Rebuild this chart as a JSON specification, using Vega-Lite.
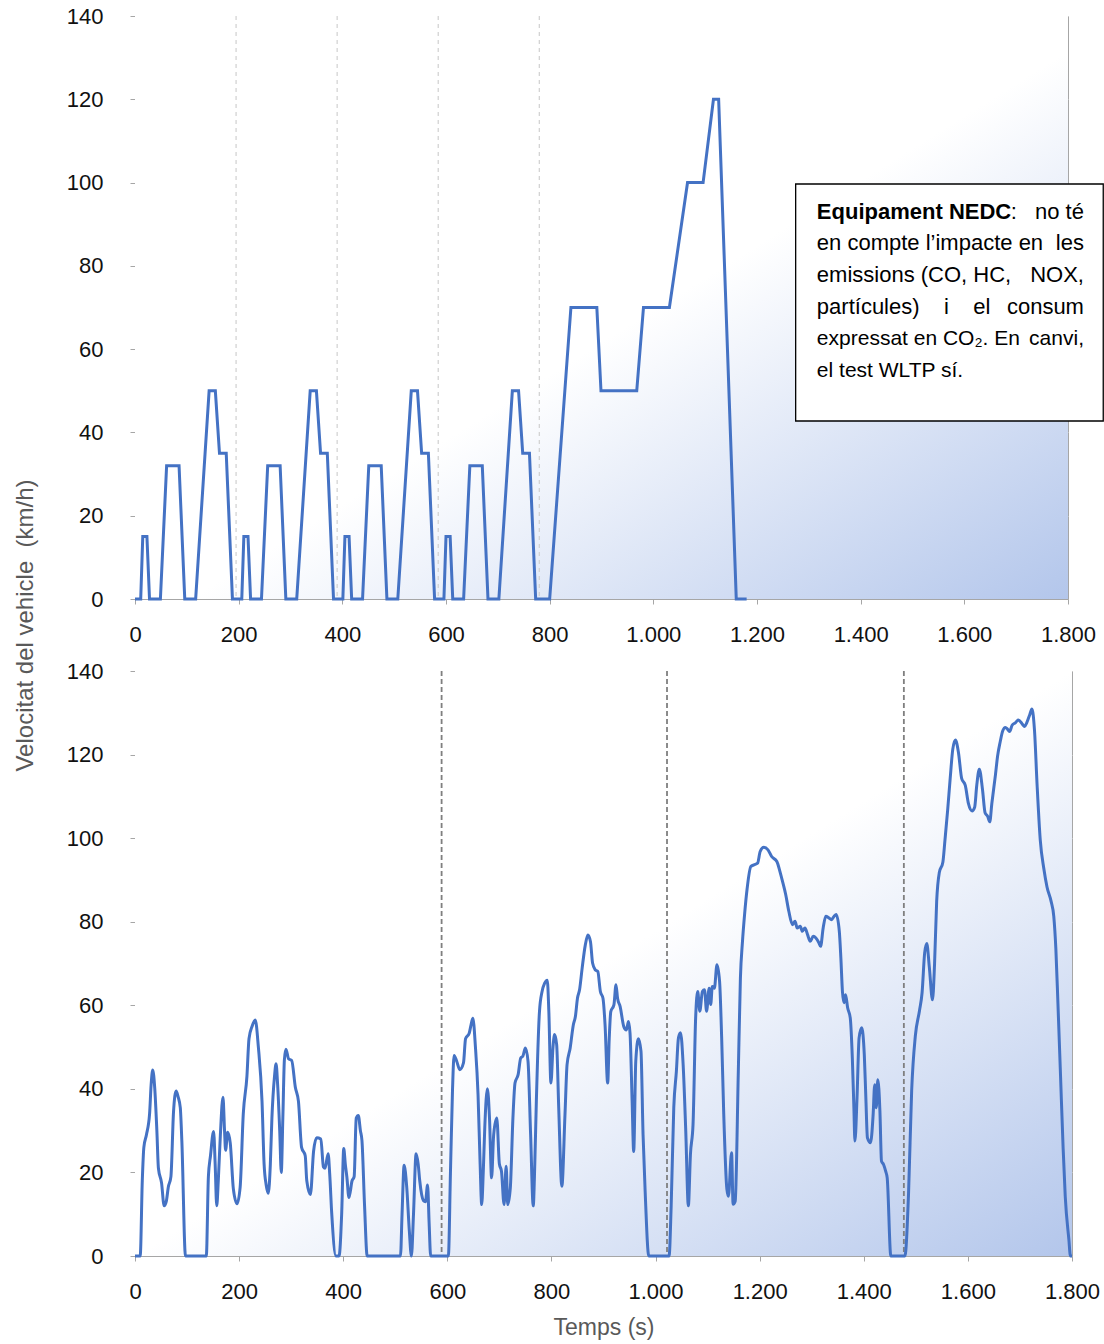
{
  "$schema": "https://vega.github.io/schema/vega-lite/v6.json",
  "background": "white",
  "padding": {"left": 12, "top": 4, "right": 5, "bottom": 5},
  "bounds": "flush",
  "spacing": 72,
  "config": {
    "font": "Liberation Sans",
    "view": {"stroke": "#a6a6a6", "strokeWidth": 1},
    "axis": {
      "labelFont": "Liberation Sans",
      "labelFontSize": 22,
      "labelColor": "#111111",
      "domainColor": "#a6a6a6",
      "tickColor": "#a6a6a6",
      "tickSize": 5,
      "gridColor": "#d4d4d4",
      "gridDash": [3, 3],
      "titleFont": "Liberation Sans",
      "titleFontSize": 23,
      "titleColor": "#595959",
      "titleFontWeight": "normal"
    }
  },
  "datasets": {
    "nedc": [
      {"t": 0, "v": 0}, {"t": 11, "v": 0}, {"t": 15, "v": 15}, {"t": 23, "v": 15}, {"t": 28, "v": 0}, {"t": 49, "v": 0}, {"t": 61, "v": 32}, {"t": 85, "v": 32}, {"t": 96, "v": 0}, {"t": 117, "v": 0}, {"t": 143, "v": 50}, {"t": 155, "v": 50}, {"t": 163, "v": 35}, {"t": 176, "v": 35}, {"t": 188, "v": 0}, {"t": 195, "v": 0},
      {"t": 206, "v": 0}, {"t": 210, "v": 15}, {"t": 218, "v": 15}, {"t": 223, "v": 0}, {"t": 244, "v": 0}, {"t": 256, "v": 32}, {"t": 280, "v": 32}, {"t": 291, "v": 0}, {"t": 312, "v": 0}, {"t": 338, "v": 50}, {"t": 350, "v": 50}, {"t": 358, "v": 35}, {"t": 371, "v": 35}, {"t": 383, "v": 0}, {"t": 390, "v": 0},
      {"t": 401, "v": 0}, {"t": 405, "v": 15}, {"t": 413, "v": 15}, {"t": 418, "v": 0}, {"t": 439, "v": 0}, {"t": 451, "v": 32}, {"t": 475, "v": 32}, {"t": 486, "v": 0}, {"t": 507, "v": 0}, {"t": 533, "v": 50}, {"t": 545, "v": 50}, {"t": 553, "v": 35}, {"t": 566, "v": 35}, {"t": 578, "v": 0}, {"t": 585, "v": 0},
      {"t": 596, "v": 0}, {"t": 600, "v": 15}, {"t": 608, "v": 15}, {"t": 613, "v": 0}, {"t": 634, "v": 0}, {"t": 646, "v": 32}, {"t": 670, "v": 32}, {"t": 681, "v": 0}, {"t": 702, "v": 0}, {"t": 728, "v": 50}, {"t": 740, "v": 50}, {"t": 748, "v": 35}, {"t": 761, "v": 35}, {"t": 773, "v": 0}, {"t": 780, "v": 0},
      {"t": 800, "v": 0}, {"t": 841, "v": 70}, {"t": 891, "v": 70}, {"t": 899, "v": 50}, {"t": 968, "v": 50}, {"t": 981, "v": 70}, {"t": 1031, "v": 70}, {"t": 1066, "v": 100}, {"t": 1096, "v": 100}, {"t": 1116, "v": 120}, {"t": 1126, "v": 120}, {"t": 1160, "v": 0}, {"t": 1180, "v": 0}
    ],
    "wltp": [
      {"t": 0, "v": 0}, {"t": 10, "v": 0}, {"t": 14, "v": 18}, {"t": 17, "v": 26}, {"t": 22, "v": 29}, {"t": 28, "v": 34}, {"t": 31, "v": 41}, {"t": 34, "v": 44.5}, {"t": 38, "v": 40}, {"t": 42, "v": 30}, {"t": 45, "v": 21}, {"t": 51, "v": 17.5}, {"t": 56, "v": 12}, {"t": 60, "v": 13}, {"t": 64, "v": 16.5}, {"t": 69, "v": 19}, {"t": 74, "v": 34.5}, {"t": 79, "v": 39.5}, {"t": 83, "v": 38}, {"t": 87, "v": 35.5}, {"t": 90, "v": 27.5}, {"t": 97, "v": 0},
      {"t": 137, "v": 0}, {"t": 141, "v": 19}, {"t": 145, "v": 24}, {"t": 151, "v": 29.8}, {"t": 154, "v": 22}, {"t": 157, "v": 12}, {"t": 160, "v": 18}, {"t": 164, "v": 29}, {"t": 169, "v": 38}, {"t": 172, "v": 30}, {"t": 174, "v": 25.3}, {"t": 178, "v": 29.6}, {"t": 183, "v": 27}, {"t": 189, "v": 16}, {"t": 196, "v": 12.5}, {"t": 202, "v": 16.5}, {"t": 208, "v": 34}, {"t": 215, "v": 43}, {"t": 219, "v": 52}, {"t": 225, "v": 55}, {"t": 231, "v": 56.5}, {"t": 237, "v": 50}, {"t": 244, "v": 37}, {"t": 248, "v": 22}, {"t": 252, "v": 17}, {"t": 256, "v": 15}, {"t": 260, "v": 22}, {"t": 263, "v": 33}, {"t": 268, "v": 43}, {"t": 271, "v": 46}, {"t": 274, "v": 41}, {"t": 278, "v": 30}, {"t": 281, "v": 20}, {"t": 284, "v": 33}, {"t": 287, "v": 47}, {"t": 290, "v": 49.5}, {"t": 295, "v": 47.2}, {"t": 301, "v": 46.8}, {"t": 308, "v": 40.4}, {"t": 314, "v": 37}, {"t": 320, "v": 26}, {"t": 327, "v": 24}, {"t": 330, "v": 18}, {"t": 337, "v": 14.7}, {"t": 343, "v": 25}, {"t": 349, "v": 28.3}, {"t": 357, "v": 28}, {"t": 362, "v": 21.3}, {"t": 365, "v": 21}, {"t": 371, "v": 24.5}, {"t": 374, "v": 19.7}, {"t": 378, "v": 10}, {"t": 386, "v": 0}, {"t": 392, "v": 0},
      {"t": 397, "v": 10}, {"t": 401, "v": 25.7}, {"t": 404, "v": 22}, {"t": 407, "v": 18.9}, {"t": 411, "v": 14}, {"t": 417, "v": 18}, {"t": 421, "v": 19}, {"t": 425, "v": 33}, {"t": 429, "v": 33.6}, {"t": 433, "v": 30}, {"t": 436, "v": 27.6}, {"t": 441, "v": 12}, {"t": 446, "v": 0}, {"t": 510, "v": 0}, {"t": 513, "v": 10}, {"t": 517, "v": 21.7}, {"t": 522, "v": 16.5}, {"t": 527, "v": 6}, {"t": 531, "v": 0}, {"t": 535, "v": 10}, {"t": 540, "v": 24.5}, {"t": 544, "v": 22}, {"t": 547, "v": 18}, {"t": 554, "v": 13.3}, {"t": 558, "v": 13}, {"t": 562, "v": 17}, {"t": 565, "v": 8}, {"t": 568, "v": 0}, {"t": 602, "v": 0},
      {"t": 606, "v": 20}, {"t": 610, "v": 40}, {"t": 613, "v": 48}, {"t": 618, "v": 46.6}, {"t": 624, "v": 44.6}, {"t": 631, "v": 46.2}, {"t": 635, "v": 52}, {"t": 642, "v": 53.3}, {"t": 645, "v": 55}, {"t": 649, "v": 56.9}, {"t": 654, "v": 50}, {"t": 659, "v": 38.6}, {"t": 663, "v": 22}, {"t": 666, "v": 12.3}, {"t": 669, "v": 20}, {"t": 672, "v": 31}, {"t": 677, "v": 40}, {"t": 681, "v": 33}, {"t": 685, "v": 18.7}, {"t": 689, "v": 29}, {"t": 695, "v": 33}, {"t": 700, "v": 22}, {"t": 704, "v": 20.3}, {"t": 709, "v": 12.3}, {"t": 713, "v": 21.5}, {"t": 716, "v": 12.3}, {"t": 721, "v": 16.3}, {"t": 726, "v": 33}, {"t": 730, "v": 41.4}, {"t": 736, "v": 43.4}, {"t": 741, "v": 47.4}, {"t": 745, "v": 47.8}, {"t": 750, "v": 49.8}, {"t": 755, "v": 46.6}, {"t": 760, "v": 29}, {"t": 765, "v": 12}, {"t": 768, "v": 22}, {"t": 771, "v": 37}, {"t": 777, "v": 58.5}, {"t": 782, "v": 63.3}, {"t": 787, "v": 65.3}, {"t": 792, "v": 66}, {"t": 795, "v": 58.5}, {"t": 799, "v": 41.4}, {"t": 803, "v": 50}, {"t": 806, "v": 53}, {"t": 810, "v": 50.6}, {"t": 814, "v": 35.4}, {"t": 820, "v": 16.7}, {"t": 826, "v": 33.8}, {"t": 830, "v": 45.8}, {"t": 836, "v": 49.8}, {"t": 842, "v": 55.3}, {"t": 846, "v": 57.3}, {"t": 850, "v": 61.7}, {"t": 854, "v": 63.7}, {"t": 859, "v": 68.9}, {"t": 865, "v": 74.4}, {"t": 870, "v": 76.8}, {"t": 875, "v": 75.2}, {"t": 879, "v": 70.1}, {"t": 884, "v": 68.5}, {"t": 889, "v": 68.1}, {"t": 894, "v": 63.3}, {"t": 899, "v": 61.7}, {"t": 903, "v": 55.3}, {"t": 908, "v": 41.4}, {"t": 911, "v": 52}, {"t": 914, "v": 58.5}, {"t": 920, "v": 60.1}, {"t": 924, "v": 64.9}, {"t": 927, "v": 61.7}, {"t": 932, "v": 59.7}, {"t": 939, "v": 54.9}, {"t": 944, "v": 54.1}, {"t": 948, "v": 56.1}, {"t": 951, "v": 53.3}, {"t": 955, "v": 37}, {"t": 958, "v": 25}, {"t": 962, "v": 46.6}, {"t": 967, "v": 52}, {"t": 972, "v": 49}, {"t": 976, "v": 29}, {"t": 980, "v": 15.5}, {"t": 987, "v": 0}, {"t": 1026, "v": 0},
      {"t": 1030, "v": 12}, {"t": 1035, "v": 35.5}, {"t": 1040, "v": 44.2}, {"t": 1044, "v": 52.2}, {"t": 1048, "v": 53.4}, {"t": 1053, "v": 45.8}, {"t": 1058, "v": 30}, {"t": 1063, "v": 12}, {"t": 1067, "v": 24.3}, {"t": 1072, "v": 31.5}, {"t": 1077, "v": 57}, {"t": 1081, "v": 63.3}, {"t": 1085, "v": 58.6}, {"t": 1090, "v": 63.3}, {"t": 1094, "v": 63.7}, {"t": 1098, "v": 58.6}, {"t": 1103, "v": 64.1}, {"t": 1106, "v": 60.2}, {"t": 1109, "v": 64.5}, {"t": 1113, "v": 64.1}, {"t": 1118, "v": 69.7}, {"t": 1123, "v": 65.7}, {"t": 1127, "v": 52.2}, {"t": 1131, "v": 33.9}, {"t": 1137, "v": 16}, {"t": 1140, "v": 14.3}, {"t": 1146, "v": 24.7}, {"t": 1149, "v": 12.4}, {"t": 1153, "v": 13.1}, {"t": 1159, "v": 44.2}, {"t": 1163, "v": 66.5}, {"t": 1167, "v": 75.3}, {"t": 1171, "v": 81.7}, {"t": 1176, "v": 88}, {"t": 1183, "v": 93.2}, {"t": 1189, "v": 93.6}, {"t": 1196, "v": 94}, {"t": 1201, "v": 96.8}, {"t": 1208, "v": 97.8}, {"t": 1216, "v": 97.2}, {"t": 1223, "v": 95.6}, {"t": 1233, "v": 94.4}, {"t": 1239, "v": 92}, {"t": 1244, "v": 89.6}, {"t": 1250, "v": 86.5}, {"t": 1256, "v": 82.5}, {"t": 1263, "v": 79.3}, {"t": 1268, "v": 80.1}, {"t": 1272, "v": 78.5}, {"t": 1278, "v": 78.9}, {"t": 1282, "v": 77.7}, {"t": 1287, "v": 78.5}, {"t": 1292, "v": 76.9}, {"t": 1297, "v": 75.3}, {"t": 1303, "v": 76.5}, {"t": 1308, "v": 76.1}, {"t": 1314, "v": 74.9}, {"t": 1317, "v": 74.1}, {"t": 1322, "v": 78.5}, {"t": 1327, "v": 81.3}, {"t": 1333, "v": 80.9}, {"t": 1338, "v": 80.5}, {"t": 1343, "v": 81.3}, {"t": 1347, "v": 81.7}, {"t": 1353, "v": 77.7}, {"t": 1356, "v": 71.3}, {"t": 1359, "v": 63.3}, {"t": 1362, "v": 60.6}, {"t": 1365, "v": 62.5}, {"t": 1369, "v": 59.4}, {"t": 1374, "v": 57}, {"t": 1378, "v": 47.4}, {"t": 1381, "v": 35.5}, {"t": 1383, "v": 27.5}, {"t": 1387, "v": 37.8}, {"t": 1391, "v": 52.2}, {"t": 1396, "v": 54.6}, {"t": 1401, "v": 48.2}, {"t": 1404, "v": 37.8}, {"t": 1407, "v": 28.3}, {"t": 1413, "v": 27.1}, {"t": 1418, "v": 33.9}, {"t": 1421, "v": 41}, {"t": 1424, "v": 35.5}, {"t": 1427, "v": 42.2}, {"t": 1431, "v": 34.7}, {"t": 1434, "v": 22.7}, {"t": 1438, "v": 21.9}, {"t": 1442, "v": 20.3}, {"t": 1445, "v": 18.7}, {"t": 1452, "v": 0}, {"t": 1479, "v": 0},
      {"t": 1486, "v": 15}, {"t": 1492, "v": 39.6}, {"t": 1499, "v": 52.6}, {"t": 1507, "v": 58.7}, {"t": 1512, "v": 63}, {"t": 1517, "v": 72.6}, {"t": 1521, "v": 74.8}, {"t": 1526, "v": 69}, {"t": 1532, "v": 61.3}, {"t": 1536, "v": 70}, {"t": 1540, "v": 84.8}, {"t": 1545, "v": 91.7}, {"t": 1552, "v": 94.3}, {"t": 1556, "v": 99.6}, {"t": 1561, "v": 106.5}, {"t": 1566, "v": 114.3}, {"t": 1571, "v": 121.3}, {"t": 1576, "v": 123.5}, {"t": 1582, "v": 120.4}, {"t": 1588, "v": 114.3}, {"t": 1595, "v": 112.6}, {"t": 1601, "v": 108.3}, {"t": 1608, "v": 106.5}, {"t": 1613, "v": 107.4}, {"t": 1617, "v": 112.6}, {"t": 1622, "v": 116.5}, {"t": 1628, "v": 111.7}, {"t": 1633, "v": 106.1}, {"t": 1638, "v": 105.2}, {"t": 1642, "v": 103.9}, {"t": 1646, "v": 108.3}, {"t": 1653, "v": 115.2}, {"t": 1657, "v": 119.6}, {"t": 1662, "v": 123}, {"t": 1667, "v": 125.7}, {"t": 1672, "v": 126.5}, {"t": 1676, "v": 126.1}, {"t": 1680, "v": 125.5}, {"t": 1685, "v": 127}, {"t": 1691, "v": 127.6}, {"t": 1697, "v": 128.3}, {"t": 1704, "v": 127.4}, {"t": 1709, "v": 126.7}, {"t": 1713, "v": 127.6}, {"t": 1719, "v": 129.6}, {"t": 1723, "v": 130.9}, {"t": 1728, "v": 125.7}, {"t": 1733, "v": 112.6}, {"t": 1739, "v": 99.6}, {"t": 1746, "v": 92.6}, {"t": 1752, "v": 88.3}, {"t": 1760, "v": 84.8}, {"t": 1765, "v": 81.3}, {"t": 1769, "v": 73.5}, {"t": 1773, "v": 60.4}, {"t": 1778, "v": 43}, {"t": 1783, "v": 25.7}, {"t": 1787, "v": 14.3}, {"t": 1794, "v": 3.9}, {"t": 1797, "v": 0}, {"t": 1800, "v": 0}
    ],
    "nedcPhases": [{"t": 195}, {"t": 390}, {"t": 585}, {"t": 780}],
    "wltpPhases": [{"t": 589}, {"t": 1022}, {"t": 1477}]
  },
  "vconcat": [
    {
      "width": 933,
      "height": 583,
      "layer": [
        {
          "data": {"values": [{}]},
          "mark": {"type": "rect", "stroke": null, "fill": {"gradient": "linear", "x1": 0, "y1": 0, "x2": 1, "y2": 1, "stops": [{"offset": 0, "color": "#ffffff"}, {"offset": 0.53, "color": "#ffffff"}, {"offset": 1, "color": "#b3c6eb"}]}},
          "encoding": {
            "x": {"datum": 0, "type": "quantitative", "scale": {"domain": [0, 1800], "nice": false}},
            "x2": {"datum": 1800},
            "y": {"datum": 0, "type": "quantitative", "scale": {"domain": [0, 140], "nice": false}},
            "y2": {"datum": 140}
          }
        },
        {
          "data": {"name": "nedcPhases"},
          "mark": {"type": "rule", "color": "#d0d0d0", "strokeDash": [4, 4], "strokeWidth": 1.2},
          "encoding": {"x": {"field": "t", "type": "quantitative", "scale": {"domain": [0, 1800], "nice": false}}}
        },
        {
          "data": {"name": "nedc"},
          "mark": {"type": "line", "color": "#4472c4", "strokeWidth": 3},
          "encoding": {
            "x": {"field": "t", "type": "quantitative", "scale": {"domain": [0, 1800], "nice": false},
              "axis": {"title": null, "values": [0, 200, 400, 600, 800, 1000, 1200, 1400, 1600, 1800], "labelExpr": "replace(format(datum.value, ','), ',', '.')", "grid": false, "labelPadding": 20, "labelFlush": false}},
            "y": {"field": "v", "type": "quantitative", "scale": {"domain": [0, 140], "nice": false},
              "axis": {"title": null, "values": [0, 20, 40, 60, 80, 100, 120, 140], "grid": true, "labelPadding": 27}}
          }
        },
        {
          "data": {"values": [{}]},
          "mark": {"type": "rect", "fill": "white", "stroke": "black", "strokeWidth": 1.3},
          "encoding": {
            "x": {"datum": 1274.6, "type": "quantitative", "scale": {"domain": [0, 1800], "nice": false}},
            "x2": {"datum": 1868},
            "y": {"datum": 42.75, "type": "quantitative", "scale": {"domain": [0, 140], "nice": false}},
            "y2": {"datum": 99.66}
          }
        },
        {
          "data": {"values": [{}]},
          "mark": {"type": "text", "text": "Equipament NEDC", "font": "Liberation Sans", "fontSize": 22, "fontWeight": "bold", "align": "left", "baseline": "alphabetic", "color": "#000000"},
          "encoding": {
            "x": {"datum": 1315.5, "type": "quantitative", "scale": {"domain": [0, 1800], "nice": false}},
            "y": {"datum": 91.3, "type": "quantitative", "scale": {"domain": [0, 140], "nice": false}}
          }
        },
        {
          "data": {"values": [{}]},
          "mark": {"type": "text", "text": ":", "font": "Liberation Sans", "fontSize": 22, "align": "left", "baseline": "alphabetic", "dx": 194, "color": "#000000"},
          "encoding": {
            "x": {"datum": 1315.5, "type": "quantitative", "scale": {"domain": [0, 1800], "nice": false}},
            "y": {"datum": 91.3, "type": "quantitative", "scale": {"domain": [0, 140], "nice": false}}
          }
        },
        {
          "data": {"values": [{}]},
          "mark": {"type": "text", "text": ["no té", "les", "NOX,", "consum"], "lineHeight": 31.6, "font": "Liberation Sans", "fontSize": 22, "align": "right", "baseline": "alphabetic", "color": "#000000"},
          "encoding": {
            "x": {"datum": 1830.8, "type": "quantitative", "scale": {"domain": [0, 1800], "nice": false}},
            "y": {"datum": 91.3, "type": "quantitative", "scale": {"domain": [0, 140], "nice": false}}
          }
        },
        {
          "data": {"values": [{}]},
          "mark": {"type": "text", "text": ["en compte l’impacte en", "emissions (CO, HC,", "partícules)\u00a0\u00a0\u00a0\u00a0i\u00a0\u00a0\u00a0\u00a0el"], "lineHeight": 31.6, "font": "Liberation Sans", "fontSize": 22, "align": "left", "baseline": "alphabetic", "color": "#000000"},
          "encoding": {
            "x": {"datum": 1315.5, "type": "quantitative", "scale": {"domain": [0, 1800], "nice": false}},
            "y": {"datum": 83.71, "type": "quantitative", "scale": {"domain": [0, 140], "nice": false}}
          }
        },
        {
          "data": {"values": [{}]},
          "mark": {"type": "text", "text": ["expressat en CO₂. En", "el test WLTP sí."], "lineHeight": 31.6, "font": "Liberation Sans", "fontSize": 21, "align": "left", "baseline": "alphabetic", "color": "#000000"},
          "encoding": {
            "x": {"datum": 1315.5, "type": "quantitative", "scale": {"domain": [0, 1800], "nice": false}},
            "y": {"datum": 60.94, "type": "quantitative", "scale": {"domain": [0, 140], "nice": false}}
          }
        },
        {
          "data": {"values": [{}]},
          "mark": {"type": "text", "text": "canvi,", "font": "Liberation Sans", "fontSize": 21, "align": "right", "baseline": "alphabetic", "color": "#000000"},
          "encoding": {
            "x": {"datum": 1830.8, "type": "quantitative", "scale": {"domain": [0, 1800], "nice": false}},
            "y": {"datum": 60.94, "type": "quantitative", "scale": {"domain": [0, 140], "nice": false}}
          }
        }
      ]
    },
    {
      "width": 937,
      "height": 585,
      "layer": [
        {
          "data": {"values": [{}]},
          "mark": {"type": "rect", "stroke": null, "fill": {"gradient": "linear", "x1": 0, "y1": 0, "x2": 1, "y2": 1, "stops": [{"offset": 0, "color": "#ffffff"}, {"offset": 0.5, "color": "#ffffff"}, {"offset": 1, "color": "#b3c6eb"}]}},
          "encoding": {
            "x": {"datum": 0, "type": "quantitative", "scale": {"domain": [0, 1800], "nice": false}},
            "x2": {"datum": 1800},
            "y": {"datum": 0, "type": "quantitative", "scale": {"domain": [0, 140], "nice": false}},
            "y2": {"datum": 140}
          }
        },
        {
          "data": {"name": "wltpPhases"},
          "mark": {"type": "rule", "color": "#7f7f7f", "strokeDash": [5, 3], "strokeWidth": 1.8},
          "encoding": {"x": {"field": "t", "type": "quantitative", "scale": {"domain": [0, 1800], "nice": false}}}
        },
        {
          "data": {"name": "wltp"},
          "mark": {"type": "line", "color": "#4472c4", "strokeWidth": 3, "interpolate": "monotone"},
          "encoding": {
            "x": {"field": "t", "type": "quantitative", "scale": {"domain": [0, 1800], "nice": false},
              "axis": {"title": "Temps (s)", "values": [0, 200, 400, 600, 800, 1000, 1200, 1400, 1600, 1800], "labelExpr": "replace(format(datum.value, ','), ',', '.')", "grid": false, "labelPadding": 20, "labelFlush": false, "titlePadding": 14}},
            "y": {"field": "v", "type": "quantitative", "scale": {"domain": [0, 140], "nice": false},
              "axis": {"title": "Velocitat del vehicle\u00a0\u00a0(km/h)", "titleFontSize": 24, "values": [0, 20, 40, 60, 80, 100, 120, 140], "grid": true, "labelPadding": 27, "titleX": -110, "titleY": -46, "titleAngle": 270, "titleAlign": "center", "titleBaseline": "middle"}}
          }
        }
      ]
    }
  ]
}
